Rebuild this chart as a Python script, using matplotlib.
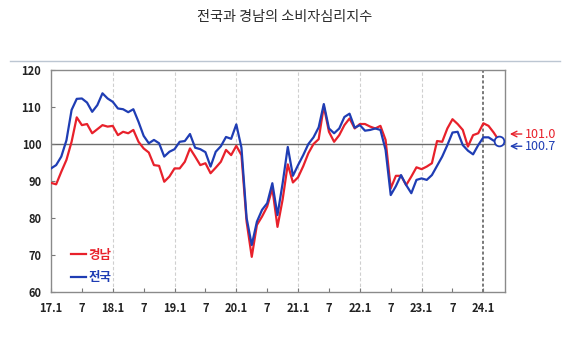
import numpy as np
import matplotlib
matplotlib.use("Agg")
import matplotlib.pyplot as plt

plt.rcParams['font.family'] = ['Noto Sans CJK KR', 'DejaVu Sans']

# monthly index, 2017.1 ~ 2024.4
national = [93.4, 94.3, 96.6, 101.0, 109.2, 112.2, 112.3, 111.2, 108.7, 110.5, 113.7, 112.3,
            111.4, 109.6, 109.4, 108.6, 109.4, 106.0, 102.2, 100.2, 101.1, 100.2, 96.6, 97.9,
            98.6, 100.6, 100.8, 102.7, 99.0, 98.6, 97.8, 93.9, 97.9, 99.4, 101.9, 101.4,
            105.3, 99.0, 80.0, 72.7, 79.0, 82.2, 84.0, 89.4, 80.8, 89.4, 99.2, 91.4,
            94.3, 97.0, 100.0, 101.8, 104.5, 110.8, 104.2, 102.9, 104.2, 107.3, 108.2, 104.4,
            105.1, 103.6, 103.8, 104.2, 103.8, 98.4, 86.2, 88.6, 91.6, 88.9, 86.7, 90.3,
            90.7, 90.3, 91.6, 94.1, 96.6, 99.7, 103.1, 103.3, 99.7, 98.2, 97.2, 99.7,
            101.8, 101.8, 100.9, 100.7]
gyeongnam = [89.5, 89.1, 92.5, 95.7, 100.6, 107.2, 105.1, 105.4, 102.9, 104.0, 105.1, 104.7,
             104.9, 102.4, 103.3, 102.9, 103.8, 100.6, 98.8, 97.7, 94.3, 94.1, 89.8, 91.2,
             93.4, 93.4, 95.2, 98.8, 96.6, 94.3, 94.8, 92.1, 93.6, 95.2, 98.4, 97.0,
             99.5, 97.0, 79.0, 69.5, 78.1, 80.4, 83.1, 88.0, 77.6, 85.0, 94.5, 89.6,
             91.0, 94.0, 97.5, 100.0, 101.3, 110.2, 103.3, 100.6, 102.4, 105.1, 106.9, 104.2,
             105.4, 105.4, 104.7, 104.2, 104.9, 101.1, 88.0, 91.4, 91.4, 88.9, 91.2, 93.7,
             93.2, 93.9, 94.8, 100.8, 100.6, 104.2, 106.7, 105.4, 103.8, 99.3, 102.4, 102.9,
             105.6, 104.9, 103.1, 101.0]
tick_labels = ['17.1', '7', '18.1', '7', '19.1', '7', '20.1', '7',
               '21.1', '7', '22.1', '7', '23.1', '7', '24.1']

RED = '#e8212b'
BLUE = '#1f3db4'

fig = plt.figure(figsize=(5.69, 3.52), dpi=100)
ax = fig.add_axes([51/569, 1-292/352, 454/569, 222/352])

x = np.arange(len(national))

# year gridlines
for m in range(12, 84, 12):
    ax.axvline(m, color='#cfcfcf', lw=0.8, ls=(0, (3, 2)), zorder=0)
ax.axvline(84, color='#555555', lw=1.1, ls=(0, (2, 1.5)), zorder=0)
ax.axhline(100, color='#6a6a6a', lw=1.0, zorder=1)

ax.plot(x, gyeongnam, color=RED, lw=1.6, label='경남', zorder=3)
ax.plot(x, national, color=BLUE, lw=1.6, label='전국', zorder=4)
ax.plot(x[-1], national[-1], 'o', ms=7, mfc='white', mec=BLUE, mew=1.3, zorder=5)

ax.set_xlim(0, 88.2)
ax.set_ylim(60, 120)
ax.set_yticks(range(60, 121, 10))
ax.set_xticks(range(0, 85, 6))
ax.set_xticklabels(tick_labels)
ax.tick_params(direction='in', length=3, color='#777777', labelsize=8, pad=7)
for lab in ax.get_xticklabels() + ax.get_yticklabels():
    lab.set_fontweight('bold')
    lab.set_color('#222222')
for s in ax.spines.values():
    s.set_color('#8a8a8a')
    s.set_linewidth(1.0)

leg = ax.legend(loc='lower left', bbox_to_anchor=(0.02, -0.015), frameon=False,
                handlelength=1.2, handletextpad=0.2, labelspacing=0.75,
                prop={'size': 9, 'weight': 'bold'}, labelcolor='linecolor')

# end value callouts
ax.annotate('', xy=(88.6, 102.7), xytext=(92.0, 102.7), annotation_clip=False,
            arrowprops=dict(arrowstyle='->', color=RED, lw=1.0))
ax.text(92.0, 102.7, '101.0', color=RED, fontsize=9, va='center', ha='left', clip_on=False)
ax.annotate('', xy=(88.6, 99.4), xytext=(92.0, 99.4), annotation_clip=False,
            arrowprops=dict(arrowstyle='->', color=BLUE, lw=1.0))
ax.text(92.0, 99.4, '100.7', color=BLUE, fontsize=9, va='center', ha='left', clip_on=False)

fig.text(0.5, 1-17/352, '전국과 경남의 소비자심리지수', ha='center', va='center',
         fontsize=10.2, color='#2a2a2a')
fig.add_artist(plt.Line2D([10/569, 560/569], [1-61/352, 1-61/352],
                          color='#bcc6d2', lw=1.0))

fig.savefig('out.png', dpi=100)
